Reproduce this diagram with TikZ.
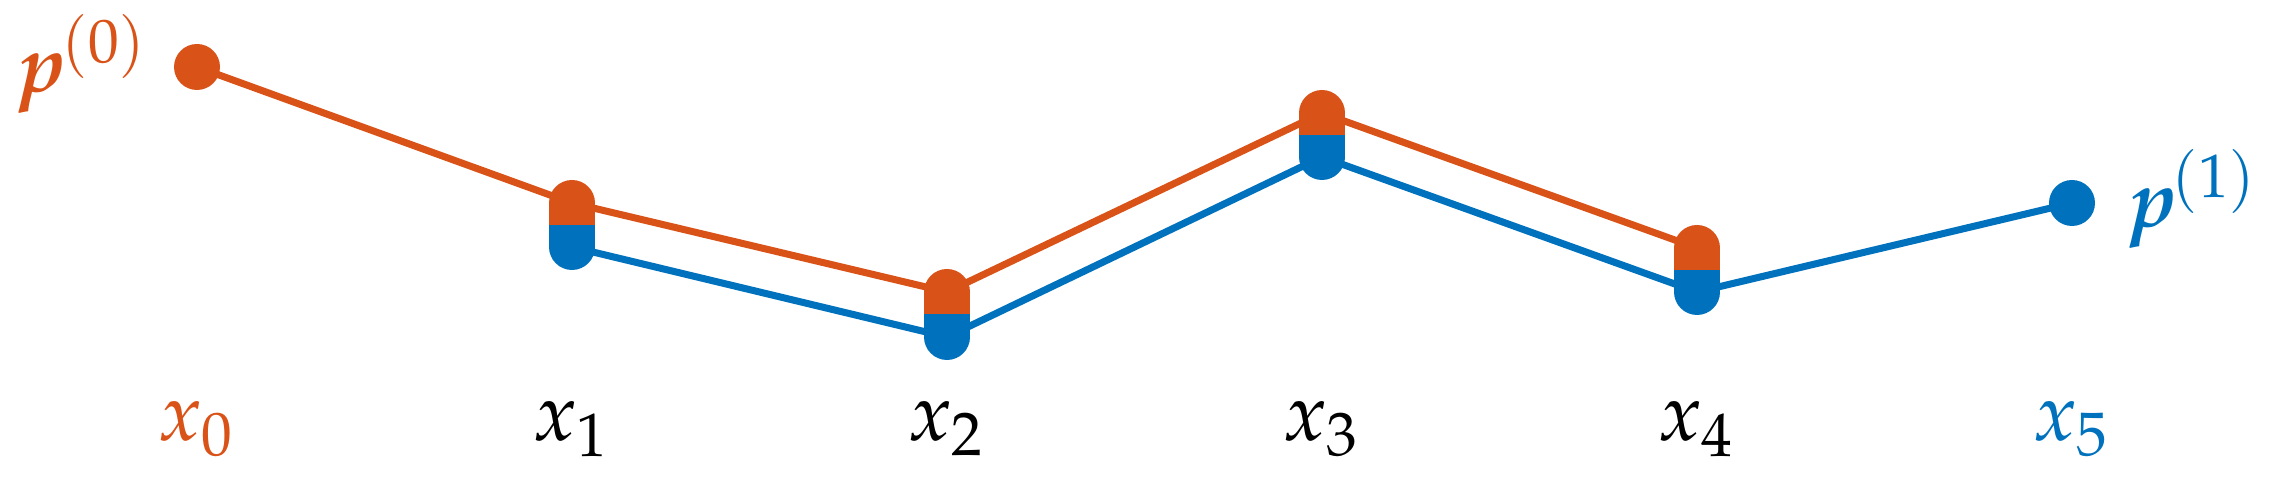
\documentclass[tikz,border=0pt]{standalone}
\usepackage{amsmath}
\usepackage{mathpazo}
\usepackage{bm}
\usetikzlibrary{calc}
\definecolor{morange}{HTML}{D95319}
\definecolor{mblue}{HTML}{0072BD}
\begin{document}
\begin{tikzpicture}[x=0.01cm,y=-0.01cm,
  lab/.style={scale=2.3,inner sep=0pt,anchor=base},
  plab/.style={scale=2.3,inner sep=0pt},
  oline/.style={morange,line width=2pt,line join=round},
  bline/.style={mblue,line width=2pt,line join=round}]
\useasboundingbox (0,0) rectangle (2269,501);
% points
\coordinate (o0) at (197,67);
\coordinate (o1) at (572,203);
\coordinate (o2) at (947,292);
\coordinate (o3) at (1322,113);
\coordinate (o4) at (1697,248);
\coordinate (b1) at (572,247);
\coordinate (b2) at (947,337);
\coordinate (b3) at (1322,157);
\coordinate (b4) at (1697,292);
\coordinate (b5) at (2072,203);
% lines
\draw[oline] (o0) -- (o1) -- (o2) -- (o3) -- (o4);
\draw[bline] (b1) -- (b2) -- (b3) -- (b4) -- (b5);
% end dots
\fill[morange] (o0) circle (23);
\fill[mblue] (b5) circle (23);
% capsules
\foreach \i in {1,2,3,4}{
  \fill[morange] (o\i) circle (23);
  \fill[mblue] (b\i) circle (23);
  \fill[morange] ($(o\i)+(-23,0)$) rectangle ($($(o\i)!0.5!(b\i)$)+(23,0)$);
  \fill[mblue] ($($(o\i)!0.5!(b\i)$)+(-23,0)$) rectangle ($(b\i)+(23,0)$);
}
% labels
\node[plab,text=morange,anchor=base east] (p0) at (151,92) {$\bm{p}^{\mkern-1.5mu(0)}$};
\node[plab,text=mblue,anchor=base west] (p1) at (2124,227) {$\bm{p}^{\mkern-1.5mu(1)}$};
\node[lab,text=morange] (x0) at (197,441) {$x_0$};
\node[lab] (x1) at (572,441) {$x_1$};
\node[lab] (x2) at (947,441) {$x_2$};
\node[lab] (x3) at (1322,441) {$x_3$};
\node[lab] (x4) at (1697,441) {$x_4$};
\node[lab,text=mblue] (x5) at (2072,441) {$x_5$};
\end{tikzpicture}
\end{document}
